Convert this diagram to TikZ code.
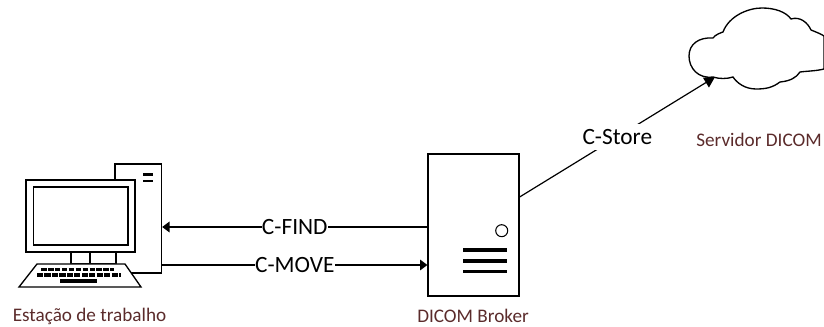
\documentclass[tikz,border=0pt]{standalone}
\usepackage{fontspec}
\setmainfont{Carlito}
\usetikzlibrary{arrows.meta}
\definecolor{captioncol}{HTML}{5B2B2B}
\tikzset{
  x=0.75pt,y=-0.75pt,
  box/.style={draw=black,fill=white,line width=1pt,inner sep=0pt,minimum width=0pt},
  heavy/.style={line width=1.2pt,draw=black},
  conn/.style={draw=black,line width=0.9pt},
  arr/.style={conn,-{Triangle[length=5.5pt,width=8pt]}},
  arrbig/.style={conn,-{Triangle[length=8pt,width=8.5pt]}},
  lab/.style={fill=white,inner sep=0.3pt,minimum height=19.5pt,font=\fontsize{17.5}{19}\selectfont,text=black},
  captext/.style={font=\fontsize{14.4}{16}\selectfont,text=captioncol,inner sep=0pt},
  bar/.style={draw=black,line width=2.5pt}
}
\begin{document}
\begin{tikzpicture}
\useasboundingbox (0,0) rectangle (824,327);
% tower
\node[box,minimum width=34.9pt,minimum height=81.8pt] (tower) at (138.25,218.5) {};
\draw[line width=1.7pt] (143,174.5) -- (153,174.5) (143,181) -- (153,181);
% monitor
\draw[box,line width=1.1pt] (71,252) rectangle (116,263.5);
\draw[line width=1pt] (90,252) -- (90,263.5);
\node[box,heavy,minimum width=81.5pt,minimum height=54pt] (monitor) at (80.5,216) {};
\node[box,minimum width=71pt,minimum height=43.5pt] (screen) at (80.5,216) {};
% keyboard
\draw[box] (37,264) -- (125,264) -- (141,287) -- (19,287) -- cycle;
\draw[line width=2.4pt,dash pattern=on 4.2pt off 1pt] (41,269.5) -- (114,269.5);
\draw[line width=2.6pt,dash pattern=on 4.6pt off 1pt] (37,275) -- (121,275);
\draw[line width=2.6pt] (60,280.8) -- (97,280.8);
% broker
\node[box,minimum width=68.2pt,minimum height=106.5pt] (broker) at (473.5,225) {};
\node[draw=black,line width=0.8pt,circle,minimum size=9pt,inner sep=0pt] (led) at (501.7,230.7) {};
\draw[bar] (463,250) -- (507,250) (463,261) -- (507,261) (463,271.5) -- (507,271.5);
% cloud
\node[inner sep=0pt,minimum size=0pt] (cloud) at (755,48) {};
\path[draw=black,fill=white,line width=1pt]
 (713,77) .. controls (698,79) and (689,68) .. (689,56)
 .. controls (689,44) and (699,37) .. (713,38)
 .. controls (715,35) and (720,33) .. (723,32)
 .. controls (729,16) and (748,8) .. (762,8)
 .. controls (775,8) and (786,12) .. (791,19)
 .. controls (800,16) and (808,23) .. (811,30)
 .. controls (816,32) and (821,34) .. (824,36)
 -- (824,69)
 .. controls (816,71) and (808,71) .. (800,72)
 .. controls (796,78) and (790,81) .. (780,82)
 .. controls (772,88) and (765,89) .. (756,89)
 .. controls (745,89) and (737,83) .. (733,77)
 .. controls (727,79) and (719,79) .. (713,77) -- cycle;
% connectors
\coordinate (findEnd) at (tower.east |- 0,227);
\coordinate (findStart) at (broker.west |- 0,227);
\coordinate (moveStart) at (tower.east |- 0,265);
\coordinate (moveEnd) at (broker.west |- 0,265);
\coordinate (storeStart) at (broker.east |- 0,197);
\coordinate (storeEnd) at (715,77);
\draw[arr] (findStart) -- node[lab,pos=0.5] (find) {C-FIND} (findEnd);
\draw[arr] (moveStart) -- node[lab,pos=0.5] (move) {C-MOVE} (moveEnd);
\draw[arrbig] (storeStart) -- node[lab,pos=0.5] (store) {C-Store} (storeEnd);
% captions
\node[captext] (capA) at (89.5,316) {Estação de trabalho};
\node[captext] (capB) at (473,316) {DICOM Broker};
\node[captext] (capC) at (759,140) {Servidor DICOM};
\end{tikzpicture}
\end{document}
